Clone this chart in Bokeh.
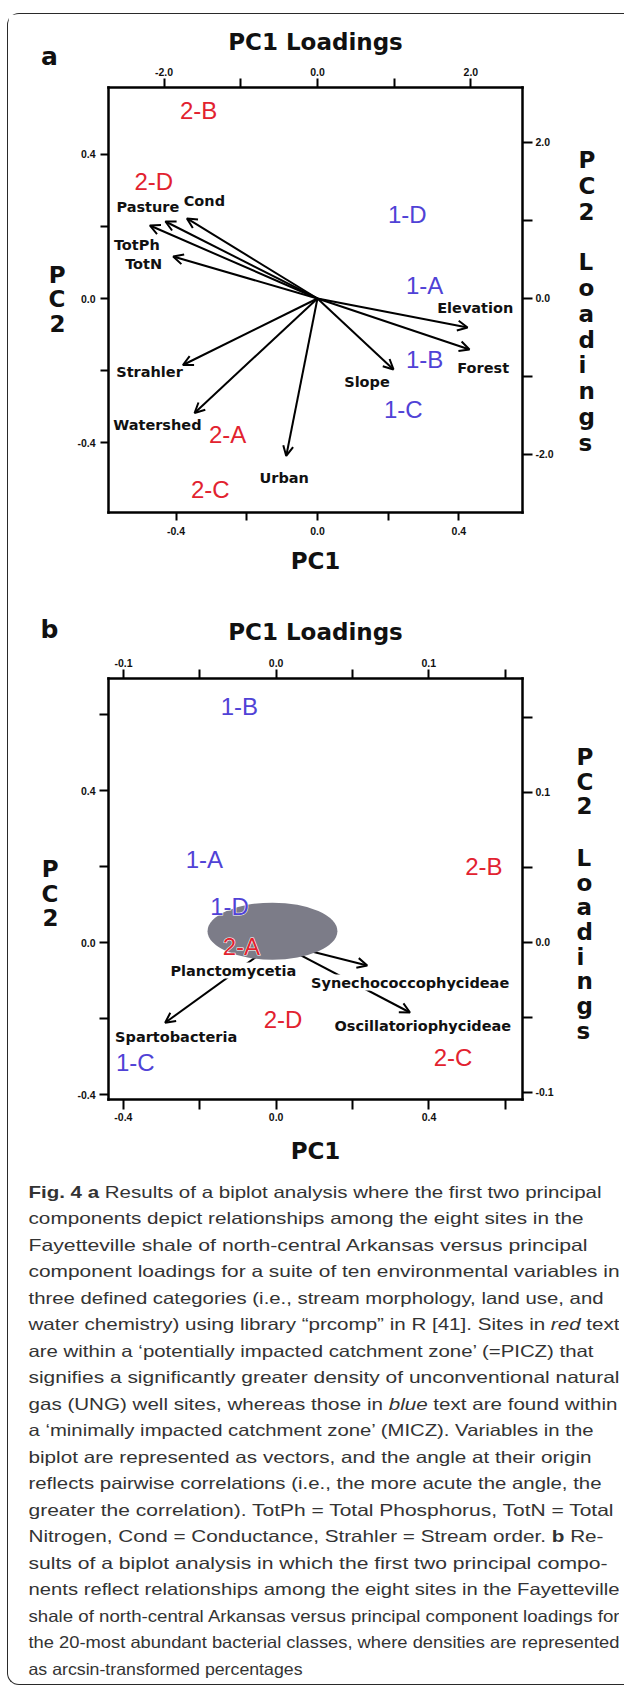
import json
from bokeh.plotting import figure
from bokeh.models import (ColumnDataSource, LinearAxis, Range1d, FixedTicker,
                          PrintfTickFormatter, CustomJSTickFormatter, Arrow, OpenHead,
                          LabelSet, Div)
from bokeh.layouts import column
from bokeh.core.properties import value
from bokeh.embed import file_html
from bokeh.resources import INLINE

RED = "#e2222f"
BLUE = "#5042d6"
ZONE_COLOR = {"PICZ": RED, "MICZ": BLUE}
BOLD_FONT = "DejaVu Sans"
SITE_FONT = "Liberation Sans"
TICK_FONT = "Liberation Sans"
INK = "#111111"

# ---------------- Panel a data ----------------
a_sites = ["2-B", "2-D", "1-D", "1-A", "1-B", "1-C", "2-A", "2-C"]
a_zone = ["PICZ", "PICZ", "MICZ", "MICZ", "MICZ", "MICZ", "PICZ", "PICZ"]
a_pc1 = [-0.336, -0.463, 0.254, 0.303, 0.303, 0.243, -0.254, -0.303]
a_pc2 = [0.523, 0.326, 0.234, 0.037, -0.169, -0.309, -0.378, -0.530]

a_vars = ["Pasture", "Cond", "TotPh", "TotN", "Elevation", "Forest", "Slope",
          "Strahler", "Watershed", "Urban"]
a_load1 = [-1.982, -1.702, -2.185, -1.881, 1.957, 1.982, 0.991, -1.754, -1.602, -0.407]
a_load2 = [0.987, 1.026, 0.936, 0.538, -0.372, -0.654, -0.910, -0.853, -1.468, -2.019]
a_lab1 = [-2.211, -1.474, -2.355, -2.266, 2.057, 2.160, 0.646, -2.189, -2.087, -0.433]
a_lab2 = [1.179, 1.256, 0.692, 0.436, -0.128, -0.897, -1.077, -0.949, -1.628, -2.308]

a_pc_ticks = [-0.4, 0.0, 0.4]
a_pc_minor = [-0.2, 0.2]
a_load_ticks = [-2.0, 0.0, 2.0]
a_load_minor = [-1.0, 1.0]

# ---------------- Panel b data ----------------
b_sites = ["1-B", "1-A", "2-B", "1-D", "2-A", "2-D", "1-C", "2-C"]
b_zone = ["MICZ", "MICZ", "PICZ", "MICZ", "PICZ", "PICZ", "MICZ", "PICZ"]
b_pc1 = [-0.0965, -0.188, 0.544, -0.122, -0.091, 0.018, -0.369, 0.463]
b_pc2 = [0.621, 0.218, 0.200, 0.095, -0.011, -0.203, -0.316, -0.303]

b_vec_names = ["Synechococcophycideae", "Oscillatoriophycideae", "Spartobacteria"]
b_load1 = [0.0597, 0.0877, -0.0727]
b_load2 = [-0.0153, -0.0467, -0.0535]

b_lab_names = ["Planctomycetia", "Synechococcophycideae", "Oscillatoriophycideae", "Spartobacteria"]
b_lab1 = [-0.0280, 0.0878, 0.0961, -0.0655]
b_lab2 = [-0.0187, -0.0267, -0.0560, -0.0633]

b_cluster_pc1 = [-0.0097]
b_cluster_pc2 = [0.030]
b_cluster_w = [0.340]
b_cluster_h = [0.150]

b_pc1_ticks = [-0.4, 0.0, 0.4]
b_pc1_minor = [-0.2, 0.2, 0.6]
b_pc2_ticks = [-0.4, 0.0, 0.4]
b_pc2_minor = [-0.2, 0.2, 0.6]
b_l1_ticks = [-0.1, 0.0, 0.1]
b_l1_minor = [-0.05, 0.05, 0.15]
b_l2_ticks = [-0.1, 0.0, 0.1]
b_l2_minor = [-0.05, 0.05, 0.15]

caption_lines = [
    '<tspan font-weight="700">Fig. 4 a</tspan> Results of a biplot analysis where the first two principal',
    'components depict relationships among the eight sites in the',
    'Fayetteville shale of north-central Arkansas versus principal',
    'component loadings for a suite of ten environmental variables in',
    'three defined categories (i.e., stream morphology, land use, and',
    'water chemistry) using library \u201cprcomp\u201d in R [41]. Sites in <tspan font-style="italic">red</tspan> text',
    'are within a \u2018potentially impacted catchment zone\u2019 (=PICZ) that',
    'signifies a significantly greater density of unconventional natural',
    'gas (UNG) well sites, whereas those in <tspan font-style="italic">blue</tspan> text are found within',
    'a \u2018minimally impacted catchment zone\u2019 (MICZ). Variables in the',
    'biplot are represented as vectors, and the angle at their origin',
    'reflects pairwise correlations (i.e., the more acute the angle, the',
    'greater the correlation). TotPh = Total Phosphorus, TotN = Total',
    'Nitrogen, Cond = Conductance, Strahler = Stream order. <tspan font-weight="700">b</tspan> Re-',
    'sults of a biplot analysis in which the first two principal compo-',
    'nents reflect relationships among the eight sites in the Fayetteville',
    'shale of north-central Arkansas versus principal component loadings for',
    'the 20-most abundant bacterial classes, where densities are represented',
    'as arcsin-transformed percentages',
]
caption_line_ends = [597, 579, 583, 615, 599, 615, 589, 615, 613, 589, 587, 597,
                     609, 599, 603, 615, 615, 615, 298]


def style_axis(ax, ticks, minor, out, standoff, label=None, label_standoff=10):
    ax.ticker = FixedTicker(ticks=ticks, minor_ticks=minor)
    ax.formatter = PrintfTickFormatter(format="%.1f")
    ax.axis_line_color = "black"
    ax.axis_line_width = 2.5
    ax.axis_line_cap = "square"
    ax.major_tick_in = 0
    ax.major_tick_out = out
    ax.minor_tick_in = 0
    ax.minor_tick_out = out
    ax.major_tick_line_width = 2
    ax.minor_tick_line_width = 2
    ax.major_tick_line_color = "black"
    ax.minor_tick_line_color = "black"
    ax.major_label_standoff = standoff
    ax.major_label_text_font = TICK_FONT
    ax.major_label_text_font_style = "bold"
    ax.major_label_text_font_size = "10.5px"
    ax.major_label_text_color = INK
    if label:
        ax.axis_label = label
        ax.axis_label_text_font = BOLD_FONT
        ax.axis_label_text_font_style = "bold"
        ax.axis_label_text_font_size = "23px"
        ax.axis_label_text_color = INK
        ax.axis_label_standoff = label_standoff


def stack_axis(p, side, ticks, labels, standoff, line_height, range_name=None):
    """An extra, line-less axis whose only tick labels are the stacked axis titles."""
    kw = {}
    if range_name:
        kw["y_range_name"] = range_name
    ax = LinearAxis(**kw)
    ax.ticker = FixedTicker(ticks=ticks, minor_ticks=[])
    js = "const L = %s; const T = %s; let best = 0; let d = 1e9;" \
         "for (let i = 0; i < T.length; i++) { const e = Math.abs(T[i] - tick);" \
         " if (e < d) { d = e; best = i; } } return L[best];" % (json.dumps(labels), json.dumps(ticks))
    ax.formatter = CustomJSTickFormatter(code=js)
    ax.axis_line_color = None
    ax.major_tick_line_color = None
    ax.minor_tick_line_color = None
    ax.major_tick_in = 0
    ax.major_tick_out = 0
    ax.minor_tick_in = 0
    ax.minor_tick_out = 0
    ax.major_label_standoff = standoff
    ax.major_label_text_font = BOLD_FONT
    ax.major_label_text_font_style = "bold"
    ax.major_label_text_font_size = "23px"
    ax.major_label_text_line_height = line_height
    ax.major_label_text_color = INK
    p.add_layout(ax, side)
    return ax


def make_panel(width, height, borders, xr, yr, x2r, y2r):
    lb, rb, tb, bb = borders
    p = figure(width=width, height=height,
               x_range=Range1d(*xr), y_range=Range1d(*yr),
               output_backend="svg", toolbar_location=None,
               min_border_left=lb, min_border_right=rb,
               min_border_top=tb, min_border_bottom=bb,
               background_fill_color="white", border_fill_color="white",
               outline_line_color=None)
    p.extra_x_ranges = {"load1": Range1d(*x2r)}
    p.extra_y_ranges = {"load2": Range1d(*y2r)}
    p.grid.visible = False
    top = LinearAxis(x_range_name="load1")
    right = LinearAxis(y_range_name="load2")
    p.add_layout(top, "above")
    p.add_layout(right, "right")
    return p, p.below[0], p.left[0], top, right


# ================= Panel a =================
pa, a_bot, a_left, a_top, a_right = make_panel(
    606, 585, (91, 92, 73, 87),
    (-0.591, 0.580), (-0.594, 0.586), (-2.724, 2.673), (-2.744, 2.705))

style_axis(a_bot, a_pc_ticks, a_pc_minor, 8, 6, "PC1", 10)
style_axis(a_top, a_load_ticks, a_load_minor, 9, 3, "PC1 Loadings", 10)
style_axis(a_left, a_pc_ticks, a_pc_minor, 8, 5)
style_axis(a_right, a_load_ticks, a_load_minor, 10, 3)
stack_axis(pa, "left", [-0.002], ["P\nC\n2"], 9, 0.95)
stack_axis(pa, "right", [1.442, -0.692],
           ["P\nC\n2", "L\no\na\nd\ni\nn\ng\ns"], 22, 0.99, "load2")

a_vec_src = ColumnDataSource(dict(x0=[0.0] * len(a_vars), y0=[0.0] * len(a_vars),
                                  x1=a_load1, y1=a_load2))
pa.add_layout(Arrow(end=OpenHead(size=10, line_width=2, line_color="black"),
                    x_start="x0", y_start="y0", x_end="x1", y_end="y1",
                    source=a_vec_src, line_width=2, line_color="black",
                    x_range_name="load1", y_range_name="load2"))

a_lab_src = ColumnDataSource(dict(x=a_lab1, y=a_lab2, t=a_vars))
pa.add_layout(LabelSet(x="x", y="y", text="t", source=a_lab_src,
                       x_range_name="load1", y_range_name="load2",
                       text_font=value(BOLD_FONT), text_font_style="bold",
                       text_font_size="14.5px", text_align="center",
                       text_baseline="middle", text_color=INK))

a_site_src = ColumnDataSource(dict(x=a_pc1, y=a_pc2, t=a_sites,
                                   c=[ZONE_COLOR[z] for z in a_zone]))
pa.add_layout(LabelSet(x="x", y="y", text="t", source=a_site_src,
                       text_font=value(SITE_FONT), text_font_size="24px",
                       text_align="center", text_baseline="middle", text_color="c"))

# ================= Panel b =================
pb, b_bot, b_left, b_top, b_right = make_panel(
    606, 570, (100, 81, 79, 70),
    (-0.439, 0.645), (-0.413, 0.695), (-0.1098, 0.1614), (-0.1047, 0.176))

style_axis(b_bot, b_pc1_ticks, b_pc1_minor, 10, 3, "PC1", 14)
style_axis(b_top, b_l1_ticks, b_l1_minor, 9, 3, "PC1 Loadings", 11)
style_axis(b_left, b_pc2_ticks, b_pc2_minor, 9, 4)
style_axis(b_right, b_l2_ticks, b_l2_minor, 10, 3)
stack_axis(pb, "left", [0.129], ["P\nC\n2"], 16, 0.95)
stack_axis(pb, "right", [0.1073, -0.0013],
           ["P\nC\n2", "L\no\na\nd\ni\nn\ng\ns"], 20, 0.95, "load2")

b_vec_src = ColumnDataSource(dict(x0=[0.0] * len(b_vec_names), y0=[0.0] * len(b_vec_names),
                                  x1=b_load1, y1=b_load2))
pb.add_layout(Arrow(end=OpenHead(size=10, line_width=2, line_color="black"),
                    x_start="x0", y_start="y0", x_end="x1", y_end="y1",
                    source=b_vec_src, line_width=2, line_color="black",
                    x_range_name="load1", y_range_name="load2", level="underlay"))

pb.ellipse(x=b_cluster_pc1, y=b_cluster_pc2, width=b_cluster_w, height=b_cluster_h,
           fill_color="#7c7c88", line_color=None)

b_lab_src = ColumnDataSource(dict(x=b_lab1, y=b_lab2, t=b_lab_names))
pb.add_layout(LabelSet(x="x", y="y", text="t", source=b_lab_src,
                       x_range_name="load1", y_range_name="load2",
                       text_font=value(BOLD_FONT), text_font_style="bold",
                       text_font_size="14.5px", text_align="center",
                       text_baseline="middle", text_color=INK,
                       background_fill_color="white"))

halo_idx = [i for i, s in enumerate(b_sites) if s in ("1-D", "2-A")]
if "text_outline_color" in LabelSet.properties():
    halo_src = ColumnDataSource(dict(x=[b_pc1[i] for i in halo_idx],
                                     y=[b_pc2[i] for i in halo_idx],
                                     t=[b_sites[i] for i in halo_idx]))
    pb.add_layout(LabelSet(x="x", y="y", text="t", source=halo_src,
                           text_font=value(SITE_FONT), text_font_size="24px",
                           text_align="center", text_baseline="middle",
                           text_color="white", text_outline_color="white"))
b_site_src = ColumnDataSource(dict(x=b_pc1, y=b_pc2, t=b_sites,
                                   c=[ZONE_COLOR[z] for z in b_zone]))
pb.add_layout(LabelSet(x="x", y="y", text="t", source=b_site_src,
                       text_font=value(SITE_FONT), text_font_size="24px",
                       text_align="center", text_baseline="middle", text_color="c"))

# ================= Panel letters =================
def panel_letter(txt, left, top):
    return Div(text=txt, width=30, height=30,
               styles={"position": "absolute", "left": f"{left}px", "top": f"{top}px",
                       "z-index": "10", "font-family": "DejaVu Sans", "font-weight": "bold",
                       "font-size": "25px", "line-height": "30px", "text-align": "center",
                       "color": INK})


letter_a = panel_letter("a", 21.5, 22.5)
letter_b = panel_letter("b", 21.5, 595.5)

# ================= Caption =================
texts = []
for i, (ln, end) in enumerate(zip(caption_lines, caption_line_ends)):
    y = 23.5 + 26.5 * i
    texts.append(f'<text x="15.5" y="{y:.1f}" textLength="{end - 24}" '
                 f'lengthAdjust="spacingAndGlyphs">{ln}</text>')
svg = ('<svg xmlns="http://www.w3.org/2000/svg" width="606" height="505" '
       'style="display:block" font-family="Open Sans" font-size="16.5px" fill="#333333">'
       + "".join(texts) + '</svg>')
cap = Div(text=svg, width=606, height=505)

layout = column(pa, pb, cap, letter_a, letter_b,
                styles={"position": "absolute", "left": "7px", "top": "13px",
                        "border": "1.5px solid #2a2a2a", "border-right": "none",
                        "border-radius": "12px 0 0 12px", "background": "white"})

open("out.html", "w", encoding="utf-8").write(file_html(layout, INLINE, title="Fig. 4"))
